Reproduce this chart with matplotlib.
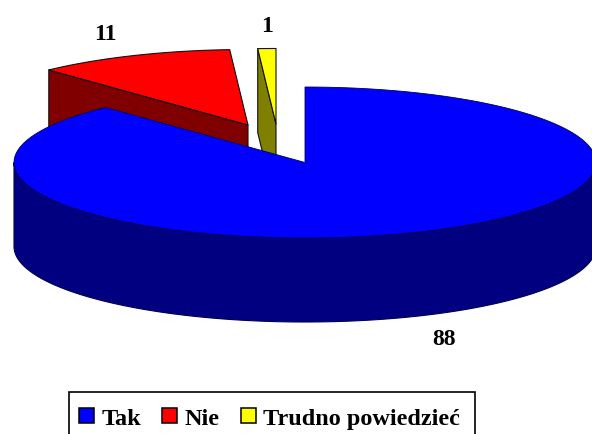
import numpy as np
import matplotlib
matplotlib.use("Agg")
import matplotlib.pyplot as plt
from matplotlib.patches import Polygon, Patch, Rectangle

labels = ["Tak", "Nie", "Trudno powiedzieć"]
values = [88, 11, 1]
top_colors = ["#0000ff", "#ff0000", "#ffff00"]
side_colors = ["#000080", "#800000", "#808000"]

# pie geometry in pixels
RX, RY, DEPTH = 291, 75.5, 84
centers = [(305, 163.5), (248, 126), (276, 125)]
label_pos = [(444, 340), (105, 34), (267, 27)]


def rim(cx, cy, a0, a1, dy=0):
    # angles are clockwise from 12 o'clock
    t = np.radians(np.linspace(a0, a1, 200))
    return np.column_stack([cx + RX * np.sin(t), cy + dy - RY * np.cos(t)])


fig = plt.figure(figsize=(5.92, 4.35), dpi=100)
ax = fig.add_axes([0, 0, 1, 1])
ax.set_xlim(0, 592)
ax.set_ylim(435, 0)
ax.axis("off")

edges = np.cumsum([0] + values) / sum(values) * 360.0
kw = dict(ec="#101010", lw=0.8, joinstyle="round")

# small slices first, the big one covers them
for i in (1, 2):
    cx, cy = centers[i]
    a0, a1 = edges[i], edges[i + 1]
    p0 = rim(cx, cy, a0, a0)[0]
    ax.add_patch(Polygon([p0, (cx, cy), (cx, cy + DEPTH), (p0[0], p0[1] + DEPTH)],
                         fc=side_colors[i], **kw))
    ax.add_patch(Polygon(np.vstack([[(cx, cy)], rim(cx, cy, a0, a1)]),
                         fc=top_colors[i], **kw))

cx, cy = centers[0]
wall = np.vstack([rim(cx, cy, 90, 270), rim(cx, cy, 90, 270, DEPTH)[::-1]])
ax.add_patch(Polygon(wall, fc=side_colors[0], ec="#000050", lw=0.8))
ax.add_patch(Polygon(np.vstack([[(cx, cy)], rim(cx, cy, edges[0], edges[1])]),
                     fc=top_colors[0], ec="#000050", lw=0.6))

font = dict(family="Liberation Serif", weight="bold", size=17)
for (x, y), v in zip(label_pos, values):
    ax.text(x, y, str(v), ha="center", va="center", color="black", **font)

# legend box runs off the bottom of the image
ax.add_patch(Rectangle((69, 393), 406, 60, fc="white", ec="black", lw=1.2))
handles = [Patch(fc=c, ec="black", lw=1.1) for c in top_colors]
leg = ax.legend(handles, labels, ncol=3, loc="upper left",
                bbox_to_anchor=(79 / 592, 1 - 408.5 / 435), borderaxespad=0,
                frameon=False,
                prop=dict(family="Liberation Serif", weight="bold", size=17.5),
                handlelength=0.62, handleheight=0.62, handletextpad=0.3,
                columnspacing=0.88, borderpad=0)

fig.savefig("out.png", dpi=100)
